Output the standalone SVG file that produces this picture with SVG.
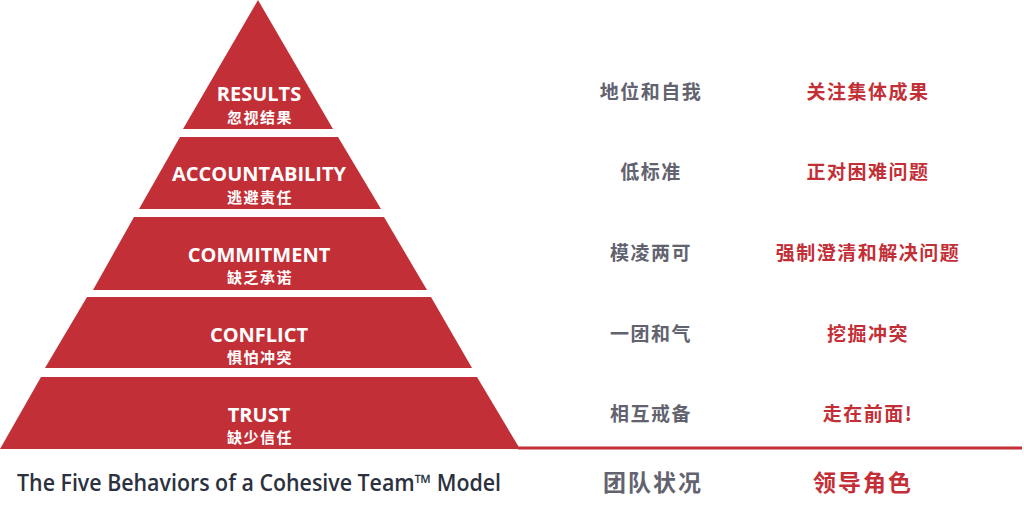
<svg xmlns="http://www.w3.org/2000/svg" width="1024" height="512" viewBox="0 0 1024 512">
<style>
.tier{fill:#c32f37}
.en{font-family:"Open Sans","Noto Sans",sans-serif;font-weight:700;font-size:20px;fill:#fff;text-anchor:middle}
.zh{font-family:"Noto Sans CJK SC",sans-serif;font-weight:700;font-size:15px;fill:#fff;text-anchor:middle;letter-spacing:1.5px}
.g{font-family:"Noto Sans CJK SC",sans-serif;font-weight:700;font-size:19px;fill:#62636f;text-anchor:middle;letter-spacing:1.5px}
.r{font-family:"Noto Sans CJK SC",sans-serif;font-weight:700;font-size:19px;fill:#c32f37;text-anchor:middle;letter-spacing:1.5px}
</style>
<rect width="1024" height="512" fill="#fff"/>
<g id="results">
<polygon class="tier" points="258,0 333,129 183,129"/>
<text class="en" x="259" y="101">RESULTS</text>
<text class="zh" x="260" y="123">忽视结果</text>
</g>
<g id="accountability">
<polygon class="tier" points="180,137 338,137 381,209 139,209"/>
<text class="en" x="259" y="181">ACCOUNTABILITY</text>
<text class="zh" x="260" y="203">逃避责任</text>
</g>
<g id="commitment">
<polygon class="tier" points="134,217 384,217 427,290 93,290"/>
<text class="en" x="259" y="262">COMMITMENT</text>
<text class="zh" x="260" y="283">缺乏承诺</text>
</g>
<g id="conflict">
<polygon class="tier" points="87,297 431,297 472,368 45,368"/>
<text class="en" x="259" y="342">CONFLICT</text>
<text class="zh" x="260" y="363">惧怕冲突</text>
</g>
<g id="trust">
<polygon class="tier" points="41,377 477,377 520,449 0,449"/>
<text class="en" x="259" y="422">TRUST</text>
<text class="zh" x="260" y="443">缺少信任</text>
</g>
<g id="connectors">
<line x1="518" y1="448" x2="1022" y2="448" stroke="#c32f37" stroke-width="3"/>
</g>
<g id="status">
<text class="g" x="651" y="99">地位和自我</text>
<text class="g" x="651" y="179">低标准</text>
<text class="g" x="651" y="260">模凌两可</text>
<text class="g" x="651" y="341">一团和气</text>
<text class="g" x="651" y="421">相互戒备</text>
</g>
<g id="leader">
<text class="r" x="868" y="99">关注集体成果</text>
<text class="r" x="868" y="179">正对困难问题</text>
<text class="r" x="868" y="260">强制澄清和解决问题</text>
<text class="r" x="868" y="341">挖掘冲突</text>
<text class="r" x="868" y="421">走在前面!</text>
</g>
<g id="footer">
<text x="17" y="491" font-family="'Open Sans','Noto Sans',sans-serif" font-weight="600" font-size="23" fill="#2b3140" textLength="484" lengthAdjust="spacingAndGlyphs">The Five Behaviors of a Cohesive Team™ Model</text>
<text x="653" y="491" font-family="'Noto Sans CJK SC',sans-serif" font-weight="700" font-size="23" fill="#62636f" text-anchor="middle" letter-spacing="2">团队状况</text>
<text x="863" y="491" font-family="'Noto Sans CJK SC',sans-serif" font-weight="700" font-size="23" fill="#c32f37" text-anchor="middle" letter-spacing="2">领导角色</text>
</g>
</svg>
